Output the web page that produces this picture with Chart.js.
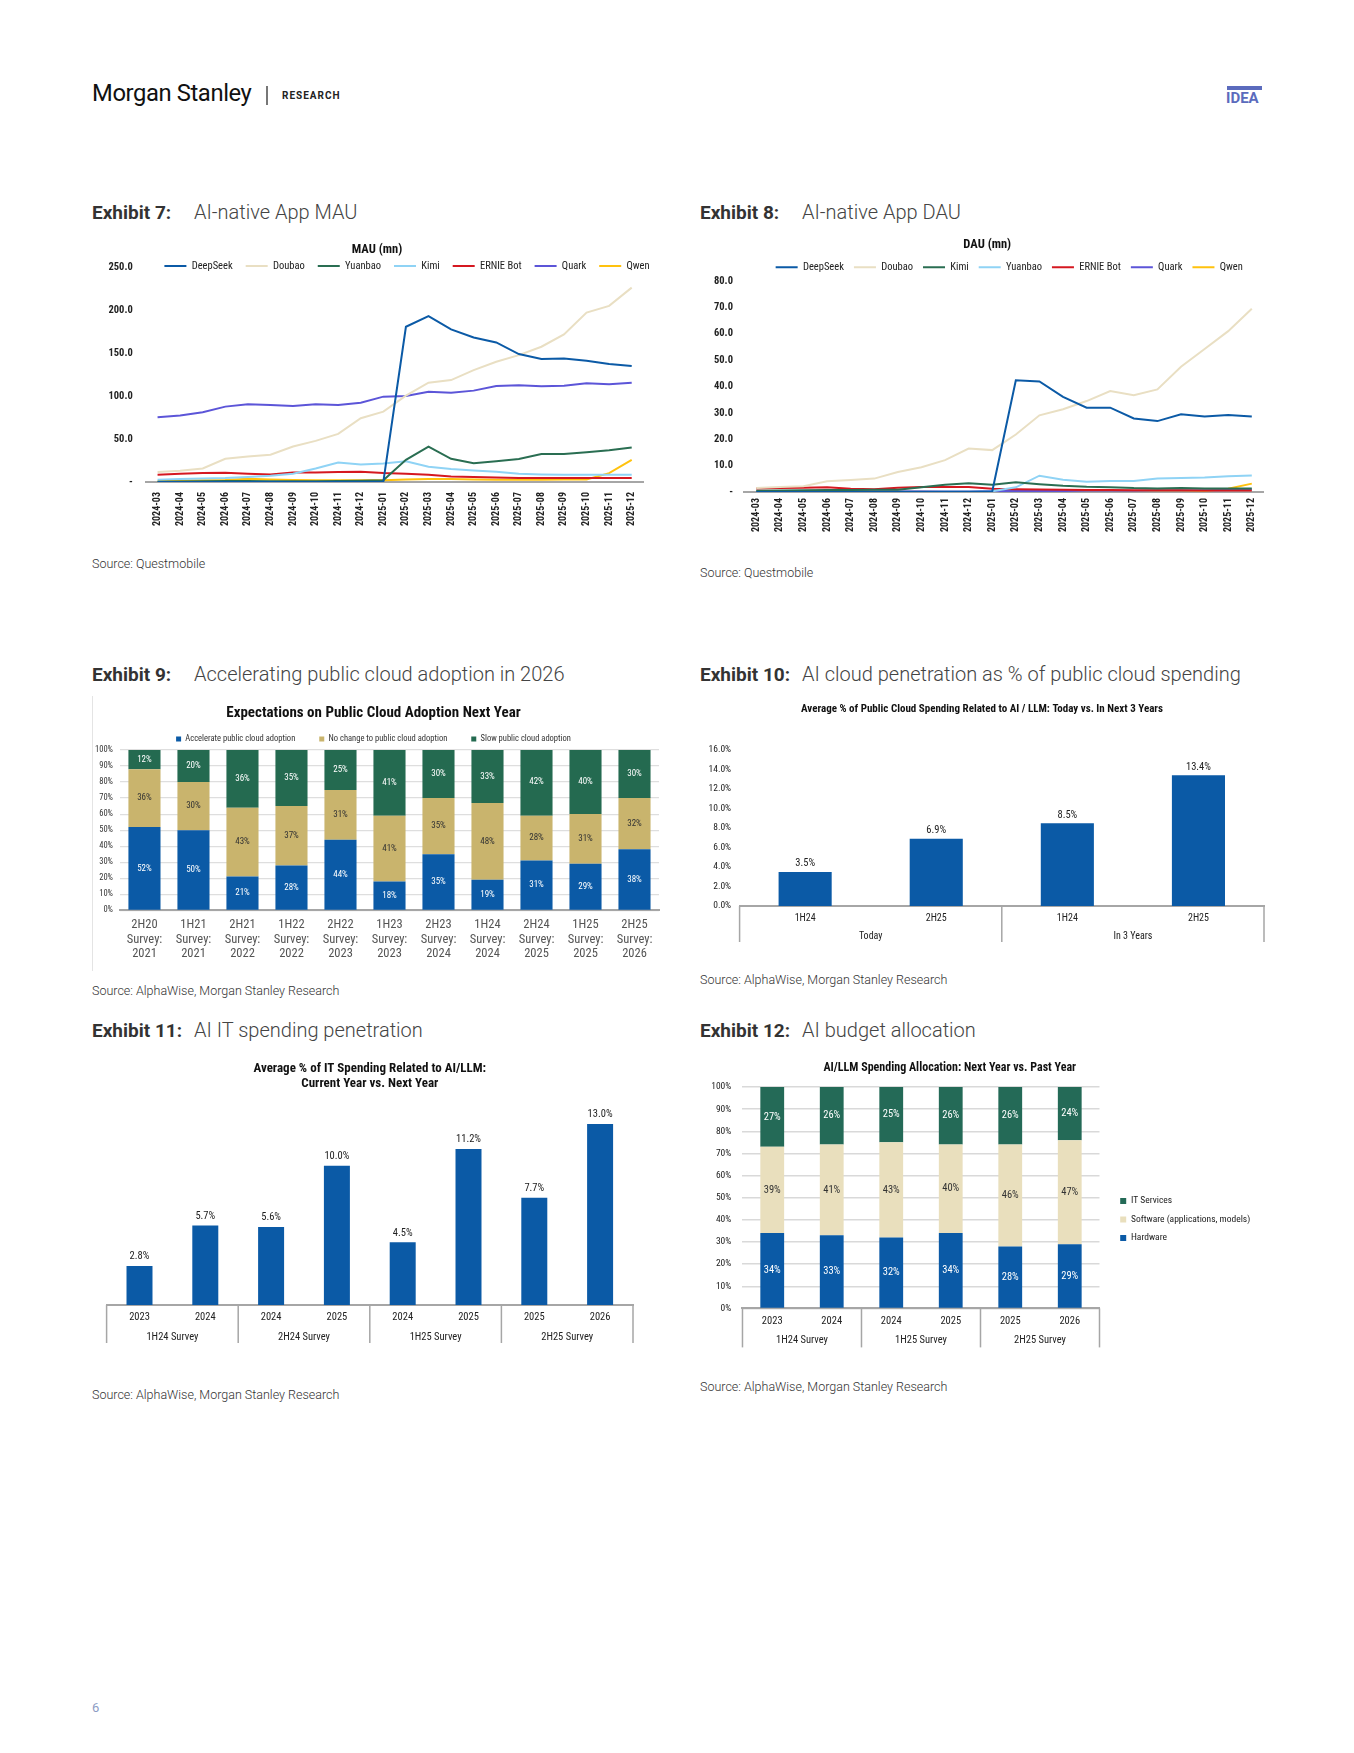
<!DOCTYPE html>
<html>
<head>
<meta charset="utf-8">
<script src="https://cdn.jsdelivr.net/npm/chart.js@4.4.1/dist/chart.umd.min.js"></script>
<style>
body { margin: 0; background: #fff; font-family: Roboto, "Liberation Sans", sans-serif; }
#page { position: relative; width: 1354px; height: 1753px; overflow: hidden; }
.ex { position: absolute; font-size: 20px; line-height: 24px; color: #444; white-space: nowrap; }
.ex b { display: inline-block; min-width: 102px; padding-right: 12px; box-sizing: border-box; font-size: 19px; font-weight: 700; color: #333; }
.ex span { font-weight: 300; }
.src { position: absolute; font-size: 12.5px; font-weight: 300; color: #333; white-space: nowrap; }
canvas { position: absolute; }
</style>
</head>
<body>
<div id="page">
  <div style="position:absolute;left:92px;top:79px;font-size:23.8px;letter-spacing:-0.4px;color:#111;">Morgan Stanley</div>
  <div style="position:absolute;left:266px;top:86px;width:1.5px;height:19px;background:#777;"></div>
  <div style="position:absolute;left:282px;top:90px;font-size:10px;font-weight:700;letter-spacing:1px;color:#222;">RESEARCH</div>
  <div style="position:absolute;left:1227px;top:86px;width:35px;height:4px;background:#5b6bbd;"></div>
  <div style="position:absolute;left:1226px;top:89px;font-family:'Liberation Sans Narrow','Roboto';font-size:15px;font-weight:700;color:#5b6bbd;">IDEA</div>

  <div class="ex" style="left:92px;top:200px;"><b>Exhibit 7:</b><span>AI-native App MAU</span></div>
  <div class="ex" style="left:700px;top:200px;"><b>Exhibit 8:</b><span>AI-native App DAU</span></div>
  <div class="ex" style="left:92px;top:662px;"><b>Exhibit 9:</b><span>Accelerating public cloud adoption in 2026</span></div>
  <div class="ex" style="left:700px;top:662px;"><b>Exhibit 10:</b><span>AI cloud penetration as % of public cloud spending</span></div>
  <div class="ex" style="left:92px;top:1018px;"><b>Exhibit 11:</b><span>AI IT spending penetration</span></div>
  <div class="ex" style="left:700px;top:1018px;"><b>Exhibit 12:</b><span>AI budget allocation</span></div>

  <canvas id="mau" width="567" height="297" style="left:92px;top:239px;"></canvas>
  <canvas id="dau" width="572" height="305" style="left:700px;top:233px;"></canvas>
  <div style="position:absolute;left:92px;top:696px;width:1px;height:275px;background:#e4e4e4;"></div>
  <canvas id="cloud" width="579" height="269" style="left:88px;top:700px;"></canvas>
  <canvas id="aiCloud" width="574" height="246" style="left:700px;top:698px;"></canvas>
  <canvas id="itSpend" width="546" height="289" style="left:95px;top:1058px;"></canvas>
  <canvas id="budget" width="560" height="291" style="left:700px;top:1058px;"></canvas>

  <div class="src" style="left:92px;top:556px;">Source: Questmobile</div>
  <div class="src" style="left:700px;top:565px;">Source: Questmobile</div>
  <div class="src" style="left:92px;top:983px;">Source: AlphaWise, Morgan Stanley Research</div>
  <div class="src" style="left:700px;top:972px;">Source: AlphaWise, Morgan Stanley Research</div>
  <div class="src" style="left:92px;top:1387px;">Source: AlphaWise, Morgan Stanley Research</div>
  <div class="src" style="left:700px;top:1379px;">Source: AlphaWise, Morgan Stanley Research</div>

  <div style="position:absolute;left:92px;top:1700px;font-size:13px;color:#8d9cc4;">6</div>
</div>

<script>
// Exhibit 7 / 8 - monthly app users (mn)
const months = ['2024-03', '2024-04', '2024-05', '2024-06', '2024-07', '2024-08', '2024-09', '2024-10', '2024-11', '2024-12',
  '2025-01', '2025-02', '2025-03', '2025-04', '2025-05', '2025-06', '2025-07', '2025-08', '2025-09', '2025-10', '2025-11', '2025-12'];

const mauNames = ['DeepSeek', 'Doubao', 'Yuanbao', 'Kimi', 'ERNIE Bot', 'Quark', 'Qwen'];
const mauDeepSeek = [0, 0, 0, 0, 0, 0, 0, 0, 0, 0, 0.5, 180.5, 192.8, 177.4, 168.0, 162.3, 148.8, 143.0, 143.7, 141.0, 137.2, 134.9];
const mauDoubao = [11.6, 13.1, 15.8, 27.0, 29.8, 31.7, 41.3, 47.9, 56.0, 74.2, 81.9, 100.5, 115.5, 118.6, 130.2, 139.9, 147.6, 157.3, 171.6, 197.0, 204.8, 226.0];
const mauYuanbao = [0.5, 0.8, 1.0, 1.2, 1.2, 1.0, 1.0, 1.0, 1.2, 1.5, 2.0, 25.9, 41.3, 27.0, 22.0, 24.3, 26.7, 32.5, 32.5, 34.8, 37.1, 40.2];
const mauKimi = [2.7, 3.5, 4.2, 4.6, 5.8, 7.3, 9.7, 15.8, 22.8, 20.5, 21.6, 24.3, 17.8, 15.1, 13.5, 12.0, 9.7, 8.9, 8.5, 8.5, 8.5, 8.5];
const mauErnie = [8.5, 9.7, 10.4, 10.8, 9.7, 8.9, 11.2, 11.2, 11.6, 12.0, 10.4, 9.7, 8.5, 6.6, 5.8, 5.4, 4.6, 4.6, 4.6, 4.6, 4.6, 4.6];
const mauQuark = [75.3, 77.3, 81.1, 87.7, 90.4, 89.6, 88.5, 90.4, 89.6, 92.3, 99.3, 100.0, 105.0, 103.9, 106.3, 111.7, 112.4, 111.3, 112.0, 114.8, 113.6, 115.5];
const mauQwen = [1.0, 1.5, 2.0, 2.5, 3.9, 3.0, 2.5, 2.0, 2.0, 2.0, 2.0, 3.0, 3.5, 3.5, 3.0, 2.8, 2.8, 2.8, 3.0, 3.0, 10.4, 25.9];

const dauNames = ['DeepSeek', 'Doubao', 'Kimi', 'Yuanbao', 'ERNIE Bot', 'Quark', 'Qwen'];
const dauDeepSeek = [0, 0, 0, 0, 0, 0, 0, 0, 0, 0, 0.2, 42.4, 41.9, 36.1, 32.0, 32.0, 27.9, 26.9, 29.5, 28.6, 29.2, 28.6];
const dauDoubao = [1.5, 1.9, 2.2, 4.1, 4.6, 5.1, 7.6, 9.4, 12.1, 16.5, 15.9, 21.8, 29.1, 31.4, 34.5, 38.3, 36.7, 38.9, 47.5, 54.2, 61.0, 69.5];
const dauKimi = [0.5, 0.6, 0.7, 0.8, 0.8, 0.9, 0.9, 1.8, 2.8, 3.3, 2.8, 3.7, 3.0, 2.4, 2.0, 1.8, 1.5, 1.4, 1.5, 1.4, 1.4, 1.4];
const dauYuanbao = [0.1, 0.1, 0.1, 0.1, 0.1, 0.1, 0.1, 0.1, 0.2, 0.2, 0.3, 1.8, 6.2, 4.7, 3.9, 4.2, 4.2, 5.1, 5.3, 5.5, 6.0, 6.3];
const dauErnie = [1.4, 1.5, 1.6, 1.8, 1.3, 1.1, 1.6, 1.9, 1.9, 1.9, 1.3, 1.1, 1.0, 0.9, 0.8, 0.8, 0.7, 0.7, 0.7, 0.6, 0.6, 0.6];
const dauQuark = [0.2, 0.2, 0.2, 0.2, 0.3, 0.3, 0.3, 0.3, 0.3, 0.3, 0.4, 0.4, 0.4, 0.4, 0.5, 0.5, 0.5, 0.6, 0.6, 0.7, 0.8, 1.0];
const dauQwen = [0.2, 0.2, 0.2, 0.2, 0.2, 0.2, 0.2, 0.2, 0.2, 0.2, 0.2, 0.3, 0.3, 0.3, 0.3, 0.3, 0.3, 0.3, 0.3, 0.4, 1.3, 3.2];

// Exhibit 9 - cloud adoption survey (%)
const cloudLabels = [['2H20', 'Survey:', '2021'], ['1H21', 'Survey:', '2021'], ['2H21', 'Survey:', '2022'], ['1H22', 'Survey:', '2022'],
  ['2H22', 'Survey:', '2023'], ['1H23', 'Survey:', '2023'], ['2H23', 'Survey:', '2024'], ['1H24', 'Survey:', '2024'],
  ['2H24', 'Survey:', '2025'], ['1H25', 'Survey:', '2025'], ['2H25', 'Survey:', '2026']];
const cloudAccelerate = [52, 50, 21, 28, 44, 18, 35, 19, 31, 29, 38];
const cloudNoChange = [36, 30, 43, 37, 31, 41, 35, 48, 28, 31, 32];
const cloudSlow = [12, 20, 36, 35, 25, 41, 30, 33, 42, 40, 30];

// Exhibit 10 - AI share of public cloud spend (%)
const aiCloudLabels = ['1H24', '2H25', '1H24', '2H25'];
const aiCloudGroups = ['Today', 'In 3 Years'];
const aiCloudValues = [3.5, 6.9, 8.5, 13.4];

// Exhibit 11 - AI share of IT spend (%)
const itLabels = ['2023', '2024', '2024', '2025', '2024', '2025', '2025', '2026'];
const itGroups = ['1H24 Survey', '2H24 Survey', '1H25 Survey', '2H25 Survey'];
const itValues = [2.8, 5.7, 5.6, 10.0, 4.5, 11.2, 7.7, 13.0];

// Exhibit 12 - AI budget split (%)
const budgetLabels = ['2023', '2024', '2024', '2025', '2025', '2026'];
const budgetGroups = ['1H24 Survey', '1H25 Survey', '2H25 Survey'];
const budgetHardware = [34, 33, 32, 34, 28, 29];
const budgetSoftware = [39, 41, 43, 40, 46, 47];
const budgetServices = [27, 26, 25, 26, 26, 24];

const narrow = '"Liberation Sans Narrow", "Roboto Condensed", "Arial Narrow", Roboto, sans-serif';
Chart.defaults.font.family = narrow;
Chart.defaults.color = '#222';
Chart.defaults.animation = false;
Chart.defaults.responsive = false;
Chart.defaults.plugins.tooltip.enabled = false;
Chart.defaults.scale.grid.drawTicks = false;

const BLUE = '#0b5aa6';

// value labels on bars
const barLabels = {
  id: 'barLabels',
  afterDatasetsDraw(chart, args, opts) {
    if (!opts.mode) return;
    const ctx = chart.ctx;
    ctx.save();
    ctx.font = (opts.weight || 'normal') + ' ' + opts.size + 'px ' + narrow;
    ctx.textAlign = 'center';
    chart.data.datasets.forEach((ds, i) => {
      chart.getDatasetMeta(i).data.forEach((bar, j) => {
        const v = ds.data[j];
        const text = (opts.fixed ? v.toFixed(opts.fixed) : v) + '%';
        ctx.fillStyle = ds.labelColor || opts.color || '#222';
        if (opts.mode === 'center') {
          ctx.textBaseline = 'middle';
          ctx.fillText(text, bar.x, (bar.y + bar.base) / 2);
        } else {
          ctx.textBaseline = 'bottom';
          ctx.fillText(text, bar.x, bar.y - opts.gap);
        }
      });
    });
    ctx.restore();
  }
};

// vertical separators between label groups under the x axis
const groupLines = {
  id: 'groupLines',
  afterDraw(chart, args, opts) {
    if (!opts.sizes) return;
    const x = chart.scales.x;
    const ctx = chart.ctx;
    const half = (x.getPixelForValue(1) - x.getPixelForValue(0)) / 2;
    const top = chart.chartArea.bottom;
    const edges = [x.getPixelForValue(0) - half];
    let idx = 0;
    opts.sizes.forEach(n => {
      idx += n;
      edges.push(x.getPixelForValue(idx - 1) + half);
    });
    ctx.save();
    ctx.strokeStyle = '#a6a6a6';
    ctx.lineWidth = 1.5;
    edges.forEach(px => {
      ctx.beginPath();
      ctx.moveTo(px, top);
      ctx.lineTo(px, top + opts.depth);
      ctx.stroke();
    });
    ctx.restore();
  }
};

// lets the legend draw past the box the layout gave it (over the plot top / nudged sideways)
const legendBox = {
  id: 'legendBox',
  afterLayout(chart, args, opts) {
    const lg = chart.legend;
    if (!lg || !opts.on) return;
    lg.left += opts.dx || 0;
    lg.right = opts.toEdge ? chart.width : lg.right + (opts.dx || 0);
    if (opts.height) lg.bottom = lg.top + opts.height;
  }
};

Chart.register(barLabels, groupLines, legendBox);

// empty right-hand axis, only used to leave a gap at the right of the plot
function spacer(w) {
  return {
    position: 'right', display: true,
    grid: { display: false }, border: { display: false }, ticks: { display: false },
    afterFit: s => { s.width = w; }
  };
}

function lineChart(id, title, names, series, colors, cfg) {
  new Chart(document.getElementById(id), {
    type: 'line',
    data: {
      labels: months,
      datasets: names.map((n, i) => ({
        label: n,
        data: series[i],
        borderColor: colors[i],
        backgroundColor: colors[i],
        borderWidth: 2,
        pointRadius: 0,
        tension: 0
      }))
    },
    options: {
      layout: { padding: cfg.pad },
      plugins: {
        title: { display: true, text: title, color: '#111', font: { size: 12.5, weight: 'bold' }, padding: cfg.titlePad },
        legend: {
          maxHeight: cfg.legendHeight,
          labels: { usePointStyle: true, pointStyle: 'line', pointStyleWidth: 22, boxHeight: 8, padding: cfg.legendGap, color: '#222', font: { size: 10.5 } }
        },
        legendBox: { on: true, dx: cfg.legendShift, height: 40 }
      },
      scales: {
        x: {
          offset: true,
          grid: { display: false },
          border: { color: '#a6a6a6', width: 2 },
          ticks: { minRotation: 90, maxRotation: 90, autoSkip: false, padding: cfg.xPad, color: '#222', font: { size: 10, weight: 'bold' } }
        },
        y: {
          min: 0, max: cfg.yMax,
          grid: { display: false },
          border: { display: false },
          ticks: { stepSize: cfg.yStep, padding: cfg.yPad, color: '#222', font: { size: 10.5, weight: 'bold' }, callback: v => v === 0 ? '-' : v.toFixed(1) }
        },
        y2: spacer(cfg.rightGap)
      }
    }
  });
}

const mauColors = [BLUE, '#e9dfc3', '#2a6e52', '#8fd3f5', '#d51820', '#5c55d8', '#ffc20e'];
const dauColors = [BLUE, '#e9dfc3', '#2a6e52', '#8fd3f5', '#d51820', '#5c55d8', '#ffc20e'];

lineChart('mau', 'MAU (mn)', mauNames,
  [mauDeepSeek, mauDoubao, mauYuanbao, mauKimi, mauErnie, mauQuark, mauQwen], mauColors,
  { yMax: 250, yStep: 50, legendGap: 13, legendHeight: 19.25, legendShift: 30, titlePad: { top: 3.5, bottom: -9.75 },
    xPad: 10, yPad: 13.5, rightGap: 16, pad: { left: 3, right: 0, top: 0, bottom: 0 } });

lineChart('dau', 'DAU (mn)', dauNames,
  [dauDeepSeek, dauDoubao, dauKimi, dauYuanbao, dauErnie, dauQuark, dauQwen], dauColors,
  { yMax: 80, yStep: 10, legendGap: 10, legendHeight: 29, legendShift: 22, titlePad: { top: 4, bottom: 0 },
    xPad: 6, yPad: 11.5, rightGap: 8.4, pad: { left: 2.5, right: 0, top: 0, bottom: 0 } });

// Exhibit 9
new Chart(document.getElementById('cloud'), {
  type: 'bar',
  data: {
    labels: cloudLabels,
    datasets: [
      { label: 'Accelerate public cloud adoption', data: cloudAccelerate, backgroundColor: BLUE, labelColor: '#fff' },
      { label: 'No change to public cloud adoption', data: cloudNoChange, backgroundColor: '#c9b46d', labelColor: '#333' },
      { label: 'Slow public cloud adoption', data: cloudSlow, backgroundColor: '#246a50', labelColor: '#fff' }
    ]
  },
  options: {
    layout: { padding: { left: 0, right: 8, top: 0, bottom: 0 } },
    datasets: { bar: { categoryPercentage: 1, barPercentage: 0.655 } },
    plugins: {
      title: { display: true, text: 'Expectations on Public Cloud Adoption Next Year', color: '#111', font: { size: 15, weight: 'bold' }, padding: { top: 4, bottom: -11.25 } },
      legend: { maxHeight: 39.25, labels: { boxWidth: 5, boxHeight: 5, padding: 24, color: '#333', font: { size: 8.5 } } },
      barLabels: { mode: 'center', size: 9 }
    },
    scales: {
      x: {
        stacked: true,
        grid: { display: false },
        border: { color: '#a6a6a6', width: 2 },
        ticks: { color: '#555', font: { size: 12.5, lineHeight: 1.15 }, padding: 7.8 }
      },
      y: {
        stacked: true, min: 0, max: 100,
        grid: { color: '#dedede', lineWidth: 1.2 },
        border: { display: false },
        ticks: { stepSize: 10, padding: 7, color: '#333', font: { size: 8.5 }, callback: v => v + '%' }
      }
    }
  }
});

// Exhibit 10
new Chart(document.getElementById('aiCloud'), {
  type: 'bar',
  data: {
    labels: aiCloudLabels,
    datasets: [{ label: 'AI / LLM share', data: aiCloudValues, backgroundColor: BLUE }]
  },
  options: {
    layout: { padding: { left: 0, right: 10, top: 0, bottom: 2 } },
    datasets: { bar: { categoryPercentage: 1, barPercentage: 0.405 } },
    plugins: {
      title: { display: true, text: 'Average % of Public Cloud Spending Related to AI / LLM: Today vs. In Next 3 Years', color: '#111', font: { size: 11, weight: 'bold' }, padding: { top: 4.4, bottom: 34.4 } },
      legend: { display: false },
      barLabels: { mode: 'top', size: 10.5, gap: 3, fixed: 1, color: '#222' },
      groupLines: { sizes: [2, 2], depth: 36 }
    },
    scales: {
      x: {
        grid: { display: false },
        border: { color: '#a6a6a6', width: 2 },
        ticks: { color: '#222', font: { size: 10 }, padding: 6 }
      },
      x2: {
        type: 'category', labels: aiCloudGroups, position: 'bottom',
        grid: { display: false }, border: { display: false },
        ticks: { color: '#222', font: { size: 10 }, padding: 0 }
      },
      y: {
        min: 0, max: 16,
        grid: { display: false },
        border: { display: false },
        ticks: { stepSize: 2, padding: 8.5, color: '#222', font: { size: 9.5 }, callback: v => v.toFixed(1) + '%' }
      }
    }
  }
});

// Exhibit 11
new Chart(document.getElementById('itSpend'), {
  type: 'bar',
  data: {
    labels: itLabels,
    datasets: [{ label: 'AI / LLM share', data: itValues, backgroundColor: BLUE }]
  },
  options: {
    layout: { padding: { left: 11.6, right: 8, top: 0, bottom: 2 } },
    datasets: { bar: { categoryPercentage: 1, barPercentage: 0.395 } },
    plugins: {
      title: { display: true, text: ['Average % of IT Spending Related to AI/LLM:', 'Current Year vs. Next Year'], color: '#111', font: { size: 13, weight: 'bold', lineHeight: 1.15 }, padding: { top: 3.5, bottom: 18.6 } },
      legend: { display: false },
      barLabels: { mode: 'top', size: 10.5, gap: 4, fixed: 1, color: '#222' },
      groupLines: { sizes: [2, 2, 2, 2], depth: 38 }
    },
    scales: {
      x: {
        grid: { display: false },
        border: { color: '#a6a6a6', width: 2 },
        ticks: { color: '#222', font: { size: 10.5 }, padding: 5.7 }
      },
      x2: {
        type: 'category', labels: itGroups, position: 'bottom',
        grid: { display: false }, border: { display: false },
        ticks: { color: '#222', font: { size: 10.5 }, padding: 1.7 }
      },
      y: { display: false, min: 0, max: 14 }
    }
  }
});

// Exhibit 12
new Chart(document.getElementById('budget'), {
  type: 'bar',
  data: {
    labels: budgetLabels,
    datasets: [
      { label: 'Hardware', data: budgetHardware, backgroundColor: BLUE, labelColor: '#fff' },
      { label: 'Software (applications, models)', data: budgetSoftware, backgroundColor: '#e9dfbd', labelColor: '#333' },
      { label: 'IT Services', data: budgetServices, backgroundColor: '#246a57', labelColor: '#fff' }
    ]
  },
  options: {
    layout: { padding: { left: 0, right: 60.5, top: 0, bottom: 2 } },
    datasets: { bar: { categoryPercentage: 1, barPercentage: 0.4 } },
    plugins: {
      title: { display: true, text: 'AI/LLM Spending Allocation: Next Year vs. Past Year', color: '#111', font: { size: 12, weight: 'bold' }, padding: { top: 2.8, bottom: 11.8 } },
      legend: {
        position: 'right', reverse: true, maxWidth: 100,
        title: { display: true, text: ' ', padding: { top: 22, bottom: 0 }, font: { size: 10 } },
        labels: { boxWidth: 6, boxHeight: 6, padding: 9, color: '#222', font: { size: 9.5 } }
      },
      legendBox: { on: true, dx: 11.7, toEdge: true },
      barLabels: { mode: 'center', size: 10.5 },
      groupLines: { sizes: [2, 2, 2], depth: 39 }
    },
    scales: {
      x: {
        stacked: true,
        grid: { display: false },
        border: { color: '#a6a6a6', width: 2 },
        ticks: { color: '#222', font: { size: 10.5 }, padding: 6.7 }
      },
      x2: {
        type: 'category', labels: budgetGroups, position: 'bottom',
        grid: { display: false }, border: { display: false },
        ticks: { color: '#222', font: { size: 10.5 }, padding: 0 }
      },
      y: {
        stacked: true, min: 0, max: 100,
        grid: { color: '#d9d9d9', lineWidth: 1.5 },
        border: { display: false },
        ticks: { stepSize: 10, padding: 11.2, color: '#222', font: { size: 9.5 }, callback: v => v + '%' }
      }
    }
  }
});
</script>
</body>
</html>
